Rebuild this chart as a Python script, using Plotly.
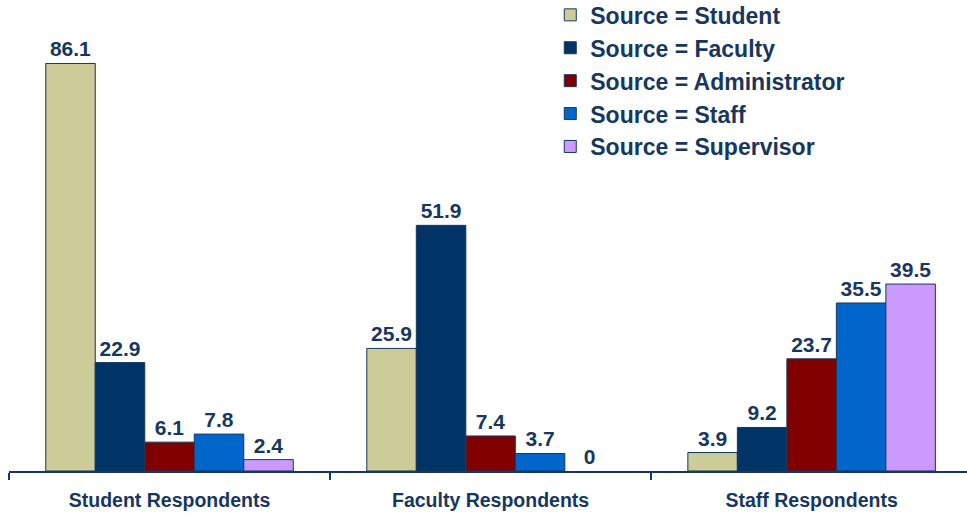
import plotly.graph_objects as go

# categories and series
categories = ["Student Respondents", "Faculty Respondents", "Staff Respondents"]
series_names = [
    "Source = Student",
    "Source = Faculty",
    "Source = Administrator",
    "Source = Staff",
    "Source = Supervisor",
]
student = [86.1, 25.9, 3.9]
faculty = [22.9, 51.9, 9.2]
administrator = [6.1, 7.4, 23.7]
staff = [7.8, 3.7, 35.5]
supervisor = [2.4, 0, 39.5]

values = [student, faculty, administrator, staff, supervisor]
colors = ["#CCCC99", "#003366", "#800000", "#0066CC", "#CC99FF"]
navy = "#17375E"
font_family = "Liberation Sans, Arial, sans-serif"

fig = go.Figure()
for name, vals, col in zip(series_names, values, colors):
    fig.add_trace(
        go.Bar(
            x=categories,
            y=vals,
            name=name,
            legendgroup=name,
            marker=dict(
                color=col,
                # no outline on an empty bar
                line=dict(color=navy, width=[1 if v > 0 else 0 for v in vals]),
            ),
            text=vals,
            texttemplate="<b>%{y}</b>",
            textposition="outside",
            textfont=dict(size=21, color=navy, family=font_family),
            cliponaxis=False,
        )
    )

fig.update_layout(
    width=967,
    height=518,
    margin=dict(l=9, r=0, t=10, b=47, autoexpand=False),
    barmode="group",
    bargap=0.229,
    bargroupgap=0,
    plot_bgcolor="white",
    paper_bgcolor="white",
    font=dict(family=font_family, color=navy),
    showlegend=True,
    legend=dict(
        x=0.565,
        y=1.036,
        xanchor="left",
        yanchor="top",
        font=dict(size=23, color=navy, family=font_family, weight="bold"),
        tracegroupgap=0,
        bgcolor="rgba(0,0,0,0)",
    ),
)
fig.update_xaxes(
    type="category",
    range=[-0.5, 2.484],
    showline=True,
    linecolor=navy,
    linewidth=1.5,
    ticks="outside",
    tickson="boundaries",
    ticklen=7,
    tickcolor=navy,
    tickwidth=1.5,
    tickfont=dict(size=19.5, color=navy, family=font_family, weight="bold"),
    ticklabelstandoff=11,
    showgrid=False,
    automargin=False,
)
fig.update_yaxes(
    range=[0, 97.4],
    visible=False,
    showgrid=False,
    zeroline=False,
)

# drop the page's default body margin so the figure sits at the window corner
fig.write_html(
    "out.html",
    config={"displayModeBar": False},
    post_script="document.body.style.margin='0';",
)
